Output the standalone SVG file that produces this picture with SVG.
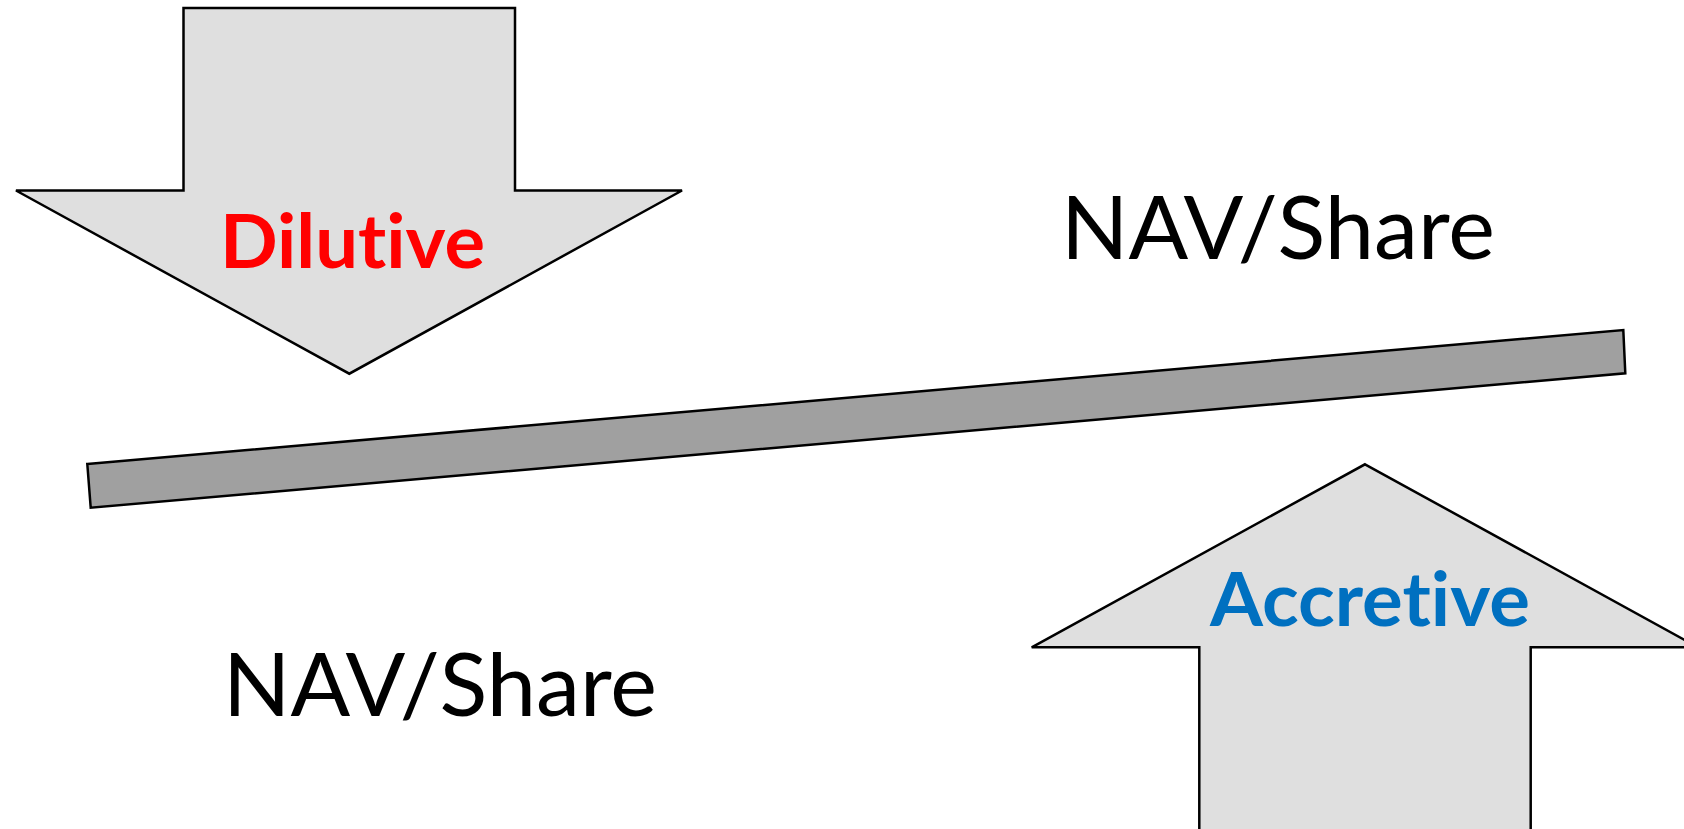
<svg xmlns="http://www.w3.org/2000/svg" width="1684" height="829" viewBox="0 0 1684 829">
  <style>
    .arrow { fill: #DFDFDF; stroke: #000000; stroke-width: 2.5; stroke-linejoin: miter; }
    .beam { fill: #A0A0A0; stroke: #000000; stroke-width: 2.5; stroke-linejoin: miter; }
    .label { font-family: Lato, "Open Sans", "Liberation Sans", sans-serif; font-variant-ligatures: none; font-feature-settings: "liga" 0, "clig" 0; }
    .tag { font-weight: bold; font-size: 75px; }
    .metric { font-size: 87px; fill: #000000; }
  </style>
  <rect width="1684" height="829" fill="#FFFFFF"/>

  <!-- downward block arrow -->
  <g id="dilutive">
    <polygon class="arrow" points="183.5,8 515,8 515,190.5 682,190.5 349.3,373.7 16,190.5 183.5,190.5"/>
    <text class="label tag" x="220" y="268" fill="#FF0000" textLength="265" lengthAdjust="spacingAndGlyphs">Dilutive</text>
  </g>

  <!-- tilted beam -->
  <g id="beam">
    <polygon class="beam" points="87.3,464 1623.3,330 1625.3,373.3 90.7,507.7"/>
  </g>

  <!-- upward block arrow -->
  <g id="accretive">
    <polygon class="arrow" points="1365,464.3 1698,647.3 1530.7,647.3 1530.7,835 1199.3,835 1199.3,647.3 1031.7,647.3"/>
    <text class="label tag" x="1210" y="626" fill="#0070C0" textLength="320" lengthAdjust="spacingAndGlyphs">Accretive</text>
  </g>

  <g id="nav-upper">
    <text class="label metric" x="1061" y="259" textLength="434" lengthAdjust="spacingAndGlyphs">NAV/Share</text>
  </g>

  <g id="nav-lower">
    <text class="label metric" x="223" y="716" textLength="434" lengthAdjust="spacingAndGlyphs">NAV/Share</text>
  </g>

  <g id="connectors"/>
</svg>
